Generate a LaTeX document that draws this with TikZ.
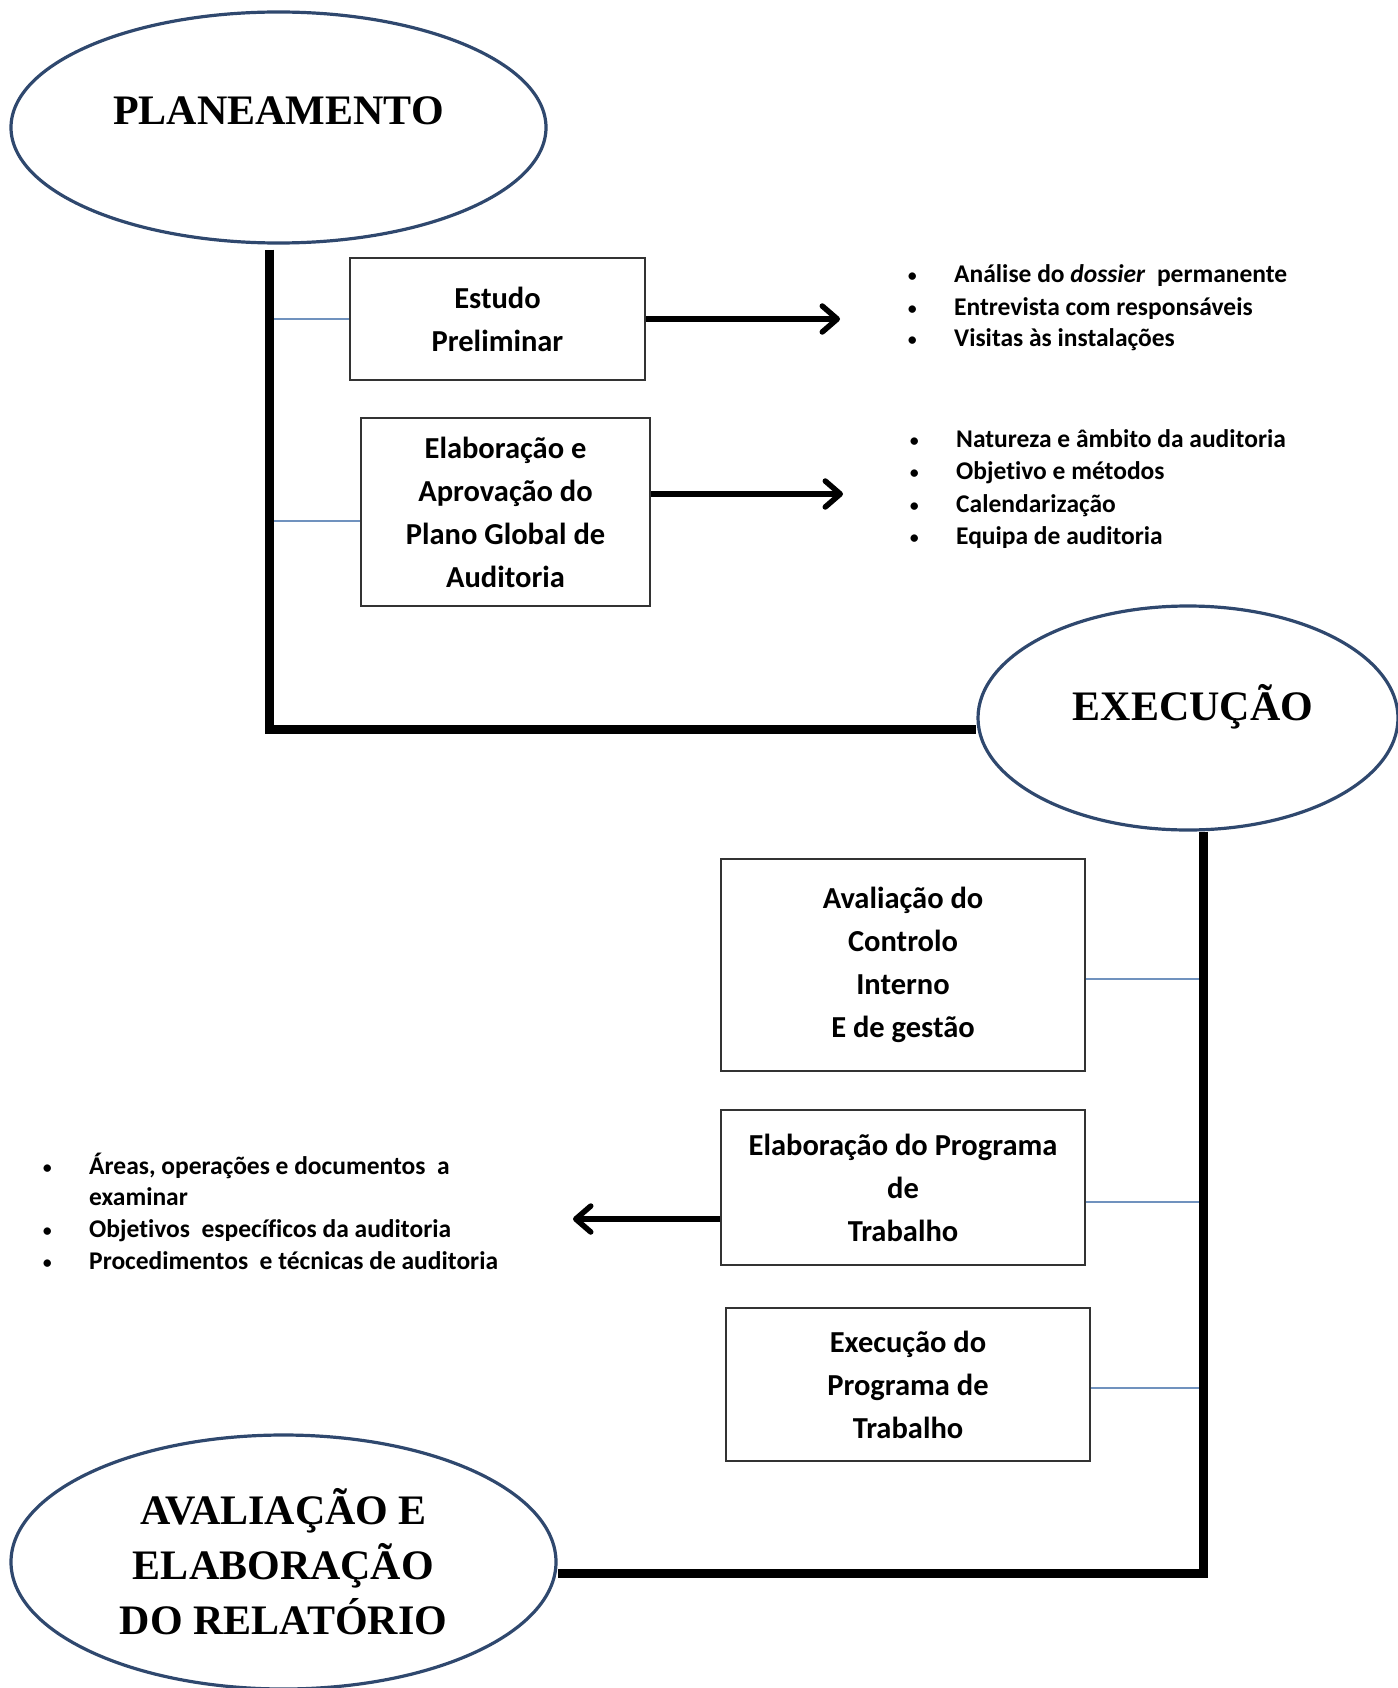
\documentclass[tikz,border=0pt]{standalone}
\usepackage{fontspec}
\setmainfont[Ligatures={NoCommon}]{Carlito}
\newfontfamily\titlefont{Liberation Serif}
\usetikzlibrary{shapes.geometric,arrows.meta}

\definecolor{ringblue}{RGB}{47,72,110}
\definecolor{branchblue}{RGB}{112,146,190}

\newcommand{\blt}{\makebox[47pt][l]{\mdseries\fontsize{21}{21}\selectfont\textbullet}}

\tikzset{
  phase/.style={ellipse, draw=ringblue, line width=3.2pt, inner sep=0pt, align=center,
    font=\titlefont\fontsize{42}{55}\selectfont\bfseries},
  stepbox/.style={draw=black!80, line width=2pt, inner sep=0pt, align=center,
    font=\fontsize{30.5}{43}\selectfont\bfseries},
  spine/.style={line width=9pt, black},
  branch/.style={line width=1.5pt, branchblue},
  arr/.style={line width=5.5pt, -{Straight Barb[length=15pt,width=26pt,round]}},
  listline/.style={anchor=west, inner sep=0pt, text height=0.75em, text depth=0.25em,
    font=\fontsize{25.5}{32}\selectfont\bfseries}
}

\begin{document}
\begin{tikzpicture}[x=1pt,y=-1pt]
  \useasboundingbox (0,0) rectangle (1397,1688);

  %%%%% fases %%%%%
  \node[phase, minimum width=535, minimum height=231, text height=28pt, text depth=34pt] (plan) at (278.5,127.5) {PLANEAMENTO};
  \node[phase, minimum width=420, minimum height=224, text height=28pt, text depth=24pt] (exec) at (1188,718) {\hspace*{10pt}EXECUÇÃO};
  \node[phase, minimum width=545, minimum height=254] (relat) at (283.5,1562) {AVALIAÇÃO E\\ELABORAÇÃO\\DO RELATÓRIO};

  %%%%% etapas %%%%%
  \node[stepbox, minimum width=295, minimum height=122] (est) at (497.5,319) {Estudo\\Preliminar};
  \node[stepbox, minimum width=289, minimum height=188] (apr) at (505.5,512) {Elaboração e\\Aprovação do\\Plano Global de\\Auditoria};
  \node[stepbox, minimum width=364, minimum height=212] (aval) at (903,965) {Avaliação do\\Controlo\\Interno\\E de gestão};
  \node[stepbox, minimum width=364, minimum height=155] (elab) at (903,1187.5) {Elaboração do Programa\\de\\Trabalho};
  \node[stepbox, minimum width=364, minimum height=153] (exe) at (908,1384.5) {Execução do\\Programa de\\Trabalho};

  %%%%% listas %%%%%
  \foreach \yy/\txt [count=\i] in {279.5/{Análise do \textit{dossier} \ permanente}, 312.5/{Entrevista com responsáveis}, 343.5/{Visitas às instalações}}
    \node[listline] (pre\i) at (907,\yy) {\blt\txt};
  \foreach \yy/\txt [count=\i] in {444.5/{Natureza e âmbito da auditoria}, 476.5/{Objetivo e métodos}, 509.5/{Calendarização}, 541.5/{Equipa de auditoria}}
    \node[listline] (glob\i) at (909,\yy) {\blt\txt};
  \foreach \yy/\txt [count=\i] in {1171.5/{Áreas, operações e documentos \ a}, 1234.5/{Objetivos \ específicos da auditoria}, 1266.5/{Procedimentos \ e técnicas de auditoria}}
    \node[listline] (prog\i) at (42,\yy) {\blt\txt};
  \node[listline] (progx) at (89,1202.5) {examinar};

  %%%%% ligacoes %%%%%
  \coordinate (c1) at (269,729);
  \coordinate (c2) at (1203,1573);
  \coordinate (k1) at (269,521);
  \coordinate (tip1) at (840,319);
  \coordinate (tip2) at (843,494);
  \coordinate (tip3) at (573,1219);

  \draw[branch] (est.west) -- (est.west -| c1);
  \draw[branch] (apr.west |- k1) -- (k1);
  \foreach \b/\yy in {aval/979, elab/1202, exe/1388}
    \draw[branch] (\b.east |- 0,\yy) -- (c2 |- 0,\yy);

  \draw[spine, shorten <=5pt] (plan.south -| c1) -- (c1) -- (c1 -| exec.west);
  \draw[spine] (exec.south -| c2) -- (c2) -- (c2 -| relat.east);

  \draw[arr] (est.east) -- (tip1);
  \draw[arr] (apr.east |- tip2) -- (tip2);
  \draw[arr] (elab.west |- tip3) -- (tip3);
\end{tikzpicture}
\end{document}
